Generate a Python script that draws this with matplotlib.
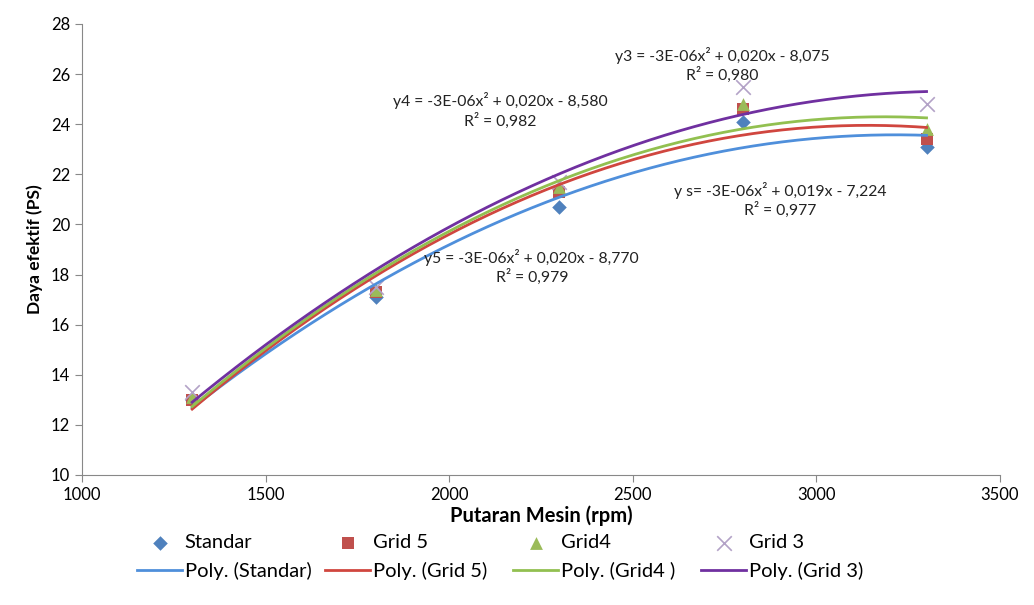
import matplotlib

matplotlib.use("Agg")
import matplotlib.pyplot as plt
import numpy as np

plt.rcParams["font.family"] = ["Lato", "DejaVu Sans"]

# data
rpm = [1300, 1800, 2300, 2800, 3300]
standar = [13.0, 17.1, 20.7, 24.1, 23.1]
grid5 = [13.0, 17.3, 21.3, 24.6, 23.4]
grid4 = [13.1, 17.4, 21.5, 24.8, 23.8]
grid3 = [13.3, 17.5, 21.7, 25.5, 24.8]

series_names = ["Standar", "Grid 5", "Grid4", "Grid 3"]
trend_names = ["Poly. (Standar)", "Poly. (Grid 5)", "Poly. (Grid4 )", "Poly. (Grid 3)"]

equations = [
    ("y s= -3E-06x² + 0,019x - 7,224", "R² = 0,977", 2901, 20.97),
    ("y5 = -3E-06x² + 0,020x - 8,770", "R² = 0,979", 2225, 18.3),
    ("y4 = -3E-06x² + 0,020x - 8,580", "R² = 0,982", 2138, 24.55),
    ("y3 = -3E-06x² + 0,020x - 8,075", "R² = 0,980", 2743, 26.36),
]

marker_styles = [
    dict(marker="D", color="#4F81BD", s=55),
    dict(marker="s", color="#C0504D", s=75),
    dict(marker="^", color="#9BBB59", s=85),
    dict(marker="x", color="#B3A2C7", s=110),
]
line_colors = ["#4F8FDB", "#D0463F", "#92C050", "#7030A0"]

fig = plt.figure(figsize=(10.34, 6.05), dpi=100)
ax = fig.add_axes([0.0793, 0.2149, 0.8878, 0.7455])

all_series = [standar, grid5, grid4, grid3]
xs = np.linspace(rpm[0], rpm[-1], 200)
marker_handles = []
line_handles = []
for vals, name, tname, mstyle, lc in zip(all_series, series_names, trend_names, marker_styles, line_colors):
    sc = ax.scatter(rpm, vals, marker=mstyle["marker"], color=mstyle["color"], s=mstyle["s"],
                    linewidths=1.2 if mstyle["marker"] == "x" else 0, zorder=2, label=name)
    marker_handles.append(sc)
    coef = np.polyfit(rpm, vals, 2)
    ln, = ax.plot(xs, np.polyval(coef, xs), color=lc, lw=2.0, zorder=3, label=tname)
    line_handles.append(ln)

for eq, r2, x, y in equations:
    ax.text(x, y, eq + "\n" + r2, ha="center", va="center", fontsize=11.3,
            linespacing=1.25, multialignment="center", color="#222222")

ax.set_xlim(1000, 3500)
ax.set_ylim(10, 28)
ax.set_xticks(range(1000, 3501, 500))
ax.set_yticks(range(10, 29, 2))
ax.tick_params(labelsize=12, length=5, color="#888888")
for side in ("top", "right"):
    ax.spines[side].set_visible(False)
for side in ("left", "bottom"):
    ax.spines[side].set_color("#888888")

ax.set_xlabel("Putaran Mesin (rpm)", fontsize=14.5, fontweight="bold", labelpad=2)
ax.set_ylabel("Daya efektif (PS)", fontsize=12.5, fontweight="bold", labelpad=6)

# one small legend per column so the columns sit on an even grid
col_left = [137, 325, 513, 701]
for k in range(4):
    fig.legend(handles=[marker_handles[k], line_handles[k]], loc="center left",
               bbox_to_anchor=(col_left[k] / 1034, 0.0793), frameon=False, fontsize=14.5,
               handlelength=2.25, handletextpad=0.12, labelspacing=0.55,
               borderpad=0, borderaxespad=0)

fig.savefig("out.png", dpi=100)
